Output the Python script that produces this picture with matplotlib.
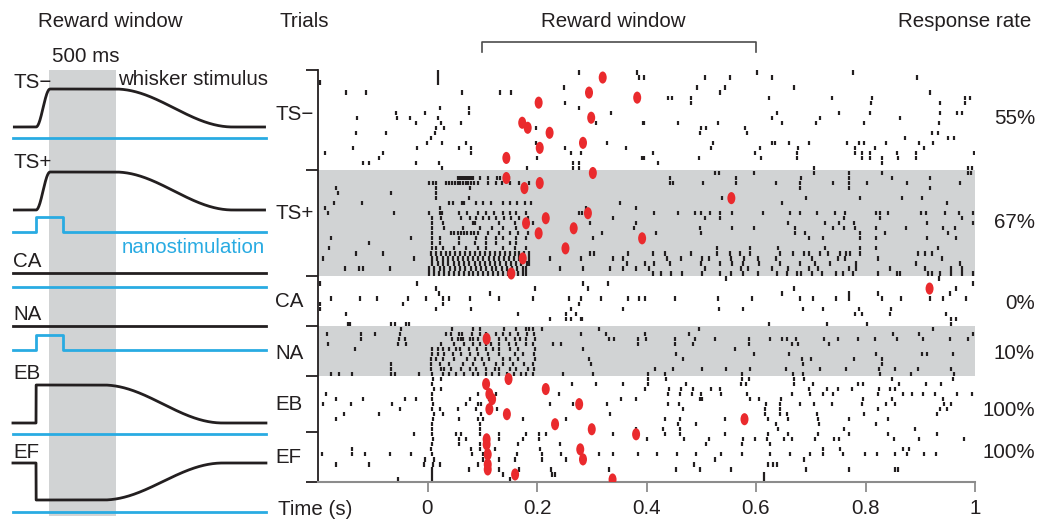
import numpy as np
import matplotlib
matplotlib.use("Agg")
import matplotlib.pyplot as plt
from matplotlib.path import Path
from matplotlib.transforms import Affine2D, blended_transform_factory

plt.rcParams['font.family'] = ['Liberation Sans', 'DejaVu Sans']

# ---------------- data ----------------
groups = ['TS\u2212', 'TS+', 'CA', 'NA', 'EB', 'EF']
group_sizes = [20, 21, 10, 10, 11, 10]
response_rates = ['55%', '67%', '0%', '10%', '100%', '100%']
shaded_groups = ['TS+', 'NA']
xticks = [0, 0.2, 0.4, 0.6, 0.8, 1.0]
xticklabels = ['0', '0.2', '0.4', '0.6', '0.8', '1']
reward_window = (0.1, 0.6)

# spike times (ms) per trial, top trial first
ts_minus_spikes = [
    [19, 277, 383, 601, 778],
    [19, 387, 395, 507, 552, 630, 894],
    [-196, 19],
    [249, 493, 543, 670],
    [-149, -112, 63, 132, 152, 534, 918],
    [440, 447, 481, 624, 738, 812, 982, 990],
    [252, 481, 810, 936, 982],
    [22, 75, 277],
    [-57, -5, 75, 336, 639, 752, 808, 936, 968, 976],
    [-129, -55, -32, 19, 630, 716, 863],
    [-21, 25, 62, 307, 394, 396, 457, 530, 647, 710, 798, 934],
    [16, 31, 198, 499, 509, 580],
    [-130, -75, 13, 498, 584, 921, 932],
    [7, 873, 951, 962],
    [-1, 26, 71, 199, 327, 522, 630, 635, 661, 697, 767, 789, 798, 837, 898, 924],
    [-136, -19, 58, 79, 205, 251, 362, 517, 607, 676, 780, 817, 907],
    [-188, -82, 80, 263, 281, 412, 598, 674, 780, 793, 808, 857, 892, 998],
    [-89, 200, 392, 395, 496, 610, 674, 794, 808, 831, 859, 892],
    [-118, -107, -21, 21, 266, 277, 421, 830],
    [27, 181, 266, 277, 706, 988, 994],
]
ts_minus_lick_trials = [1, 4, 5, 6, 9, 10, 11, 12, 14, 15, 17]
ts_minus_lick_ms = [320, 295, 383, 203, 299, 173, 183, 223, 284, 205, 144]

ts_plus_spikes = [
    [525, 532, 597, 706, 769, 830, 988, 993],
    [55, 59, 62, 65, 68, 71, 74, 77, 80, 83, 96, 110, 127, 133, 149, 443, 563, 683, 770, 848, 918],
    [3, 10, 16, 34, 40, 44, 50, 55, 60, 65, 70, 74, 79, 85, 92, 110, 125, 136, 151, 167, 185,
     443, 448, 504, 563, 637, 681, 741, 769, 802, 876, 973],
    [-168, 16, 77, 681, 769, 918],
    [-164, -66, 16],
    [16, 76, 537, 692, 790, 866, 904],
    [-170, -119, 40, 46, 63, 67, 89, 102, 116, 137, 150, 164, 178, 189, 352, 647, 949],
    [-188, 22, 290, 381],
    [-181, -62, 2, 23, 26, 58, 73, 92, 106, 122, 137, 150, 162, 180, 277, 282, 414, 458, 489, 500,
     516, 534, 557, 613, 662, 680, 712, 745, 763, 819, 827, 842, 901, 911, 945, 971, 997],
    [8, 25, 61, 77, 89, 101, 113, 125, 140, 152, 168, 183, 339, 507, 534, 760, 827, 977],
    [9, 28, 83, 86, 131, 159, 192, 297, 380, 658, 726, 752, 779, 912, 997],
    [9, 31, 64, 95, 118, 137, 162, 377, 498, 557, 597, 671, 741, 761, 781, 820, 874, 942, 963],
    [9, 43, 49, 55, 61, 67, 73, 79, 85, 92, 110, 131, 150, 165, 183, 318, 418, 499, 671, 690, 790,
     836, 950],
    [-176, -30, 9, 22, 58, 89, 107, 125, 137, 162, 180, 302, 697, 723, 790, 819, 912, 965],
    [-106, 9, 22, 58, 86, 107, 125, 150, 162],
    [-179, 9, 16, 28, 49, 70, 92, 107, 137, 159, 180, 528, 589, 640, 726, 790, 819, 933],
    [-130, -82, 6, 15, 24, 33, 42, 51, 60, 69, 78, 87, 96, 105, 114, 123, 132, 141, 150, 159, 168,
     177, 186, 296, 305, 366, 412, 434, 482, 528, 552, 571, 589, 644, 668, 688, 696, 717, 732, 753,
     765, 772, 790, 896, 909, 921],
    [-190, -24, 9, 18, 28, 37, 46, 56, 65, 74, 84, 93, 102, 112, 121, 130, 140, 149, 158, 168, 177,
     186, 223, 280, 338, 357, 437, 463, 501, 515, 555, 578, 604, 637, 703, 750, 763, 823, 939],
    [9, 19, 29, 38, 48, 57, 67, 76, 86, 95, 105, 114, 124, 133, 143, 152, 162, 171, 181, 186, 364,
     397, 414, 443, 499, 534, 557, 577, 606, 644, 681, 708, 735, 782, 893, 973],
    [-150, -126, -118, -68, 3, 12, 22, 31, 41, 50, 60, 69, 79, 88, 98, 107, 117, 126, 136, 145, 155,
     164, 174, 180, 242, 284, 333, 357, 381, 405, 506, 573, 586, 629, 659, 696, 714, 769, 783, 844,
     909, 957, 976],
    [3, 12, 21, 30, 39, 48, 57, 66, 75, 84, 93, 102, 111, 120, 129, 138, 147, 156, 165, 174, 180,
     412, 426, 444, 464, 501, 534, 554, 577, 604, 638, 656, 674, 683, 702, 720, 747, 759, 778, 823,
     857, 863, 915, 921, 936, 957, 976, 997],
]
ts_plus_lick_trials = [0, 1, 2, 3, 5, 8, 9, 10, 11, 12, 13, 15, 17, 20]
ts_plus_lick_ms = [302, 144, 205, 177, 555, 293, 216, 180, 267, 203, 392, 252, 174, 153]

ca_spikes = [
    [546, 934],
    [-196, -19, 284, 329, 997],
    [16, 197, 293, 670, 965],
    [21, 114, 647, 769, 822, 954],
    [-176, -123, -93, -36, -3, 28, 40, 78, 131, 193, 259, 280, 317, 366, 387, 397, 452, 531, 592,
     680, 705, 746, 770, 831, 864, 917, 941, 983],
    [-196, -45, 28, 277],
    [-196, 15, 80, 262, 357, 532, 577, 685, 723, 788, 846],
    [-148, 165, 253, 271, 780, 793, 845, 947],
    [224, 253, 262, 280, 283, 957, 966],
    [-146, -142, -67, -59, -39, -33, 624, 729, 802, 957],
]
ca_lick_trials = [2]
ca_lick_ms = [917]

na_spikes = [
    [-48, 45, 84, 96, 140, 162, 180, 186, 192, 209, 313, 496, 924],
    [-184, -121, -95, -51, 34, 43, 57, 63, 81, 96, 106, 125, 137, 150, 165, 181, 194, 280, 326, 397,
     478, 851, 898, 997],
    [-121, -52, -42, 45, 55, 61, 64, 77, 84, 93, 107, 113, 131, 144, 159, 169, 180, 196, 332, 341,
     384, 399, 452, 488, 526, 588, 625, 647, 656, 673, 725, 750, 787, 817, 857, 905, 955, 988],
    [-182, -54, -40, 25, 49, 67, 84, 95, 106, 116, 130, 148, 162, 179, 193, 229, 243, 384, 452, 485,
     588, 666, 677, 734],
    [-132, 8, 19, 28, 40, 52, 59, 75, 90, 107, 119, 131, 150, 165, 196, 284, 562],
    [8, 19, 31, 47, 61, 77, 92, 110, 131, 159, 174, 194, 454, 597, 661, 819, 904, 913, 959],
    [6, 16, 28, 49, 73, 87, 100, 113, 137, 150, 165, 196, 295, 467, 684, 700, 779, 831],
    [-67, 6, 22, 40, 64, 83, 103, 125, 137, 156, 177, 193, 299, 685, 831],
    [-67, 6, 25, 31, 43, 61, 77, 89, 107, 124, 131, 150, 162, 183, 194, 415, 448, 502, 545, 589, 654,
     716, 764, 825, 853, 896, 956],
    [-177, -161, -138, -67, -59, -15, 8, 28, 40, 52, 66, 83, 92, 106, 118, 131, 145, 158, 171, 180,
     192, 247, 302, 403, 434, 574, 668, 686, 826, 884, 962],
]
na_lick_trials = [2]
na_lick_ms = [108]

eb_spikes = [
    [10, 25, 403, 435, 574, 587, 670, 688, 848, 960],
    [9, 264, 307, 357, 403, 472, 572, 582, 669, 704, 787, 795, 862, 910, 938],
    [11, 25, 397, 442, 463, 485, 518, 535, 696, 729, 749, 776, 825, 845, 854],
    [-186, 9, 93, 110, 125, 241, 440, 462, 484, 499, 536, 583, 665, 699, 723, 740, 823, 869, 885, 905,
     927, 967, 994],
    [-168, -117, -42, -21, 8, 77, 113, 354, 381, 498, 501, 589, 606, 645, 795, 849, 941],
    [-191, -140, -65, 10, 70, 92, 98, 224, 266, 327, 439, 460, 618, 643, 680, 706, 739, 793, 838, 853,
     944, 957],
    [-50, 9, 23, 55, 89, 127, 467, 616, 644, 822, 936, 948],
    [-152, -88, 11, 28, 98, 334, 616, 643, 656, 711, 797, 930],
    [-168, 10, 58, 92, 101, 174, 253, 434, 462, 543, 622, 659, 713, 770, 842],
    [8, 95, 230, 458, 490, 637, 715, 820],
    [9, 95, 381, 430, 462, 640, 760, 890],
]
eb_lick_trials = [0, 1, 2, 3, 4, 5, 6, 7, 8, 9, 10]
eb_lick_ms = [148, 107, 216, 113, 118, 277, 113, 145, 579, 233, 300]

ef_spikes = [
    [-24, 8, 52, 61, 95, 131, 180, 204, 217, 338, 433, 462, 543, 622, 659, 713, 770, 842, 931],
    [10, 57, 71, 107, 131, 174, 204, 400, 468, 514, 577, 598, 621, 652, 665, 708, 742, 752, 852, 898,
     980],
    [9, 58, 95, 165, 242, 509, 574, 626],
    [-138, 7, 80, 96, 124, 206, 277, 722, 754, 868, 879],
    [-193, -138, -115, -68, -30, 9, 82, 102, 113, 163, 209, 244, 314, 338, 385, 420, 455, 490, 536,
     574, 626, 663, 698, 723, 759, 799, 821, 853, 876, 906, 929],
    [-4, 11, 101, 131, 159, 210, 253, 525, 687],
    [-168, -106, -6, 10, 22, 92, 113, 487, 622, 631, 638],
    [9, 75, 131, 168, 225, 332, 454, 497, 555, 692, 769, 854, 860],
    [8, 137, 228, 232, 614],
    [-54, 9, 150, 615],
]
ef_lick_trials = [0, 1, 2, 3, 4, 5, 6, 7, 8, 9]
ef_lick_ms = [381, 108, 108, 279, 110, 284, 110, 110, 160, 338]

group_spikes = [ts_minus_spikes, ts_plus_spikes, ca_spikes, na_spikes, eb_spikes, ef_spikes]
group_lick_trials = [ts_minus_lick_trials, ts_plus_lick_trials, ca_lick_trials,
                     na_lick_trials, eb_lick_trials, ef_lick_trials]
group_lick_ms = [ts_minus_lick_ms, ts_plus_lick_ms, ca_lick_ms, na_lick_ms, eb_lick_ms, ef_lick_ms]

# schematic (left panel): stimulus type per condition
stim_kind = ['ramp', 'ramp', 'flat', 'flat', 'step_up', 'step_down']
nano_pulse = [False, True, False, True, False, False]
nano_pulse_dur = 0.2

# ---------------- style / layout ----------------
W, H = 1039, 521
FS = 14.8
INK = '#231f20'
BLUE = '#29abe2'
GRAY = '#d1d3d4'
RED = '#ea2a2d'
AXGRAY = '#8c8c8c'

fig = plt.figure(figsize=(W / 100, H / 100), dpi=100)


def ftext(x, y, s, **kw):
    kw.setdefault('color', INK)
    kw.setdefault('fontsize', FS)
    kw.setdefault('va', 'baseline')
    fig.text(x / W, 1 - y / H, s, **kw)


# ---------------- left schematic ----------------
ax0 = fig.add_axes([0, 0, 300 / W, 1])
ax0.set_xlim(-36 / 134, 264 / 134)
ax0.set_ylim(H, 0)
ax0.axis('off')
ax0.fill_between(list(reward_window), 70, 516, color=GRAY, lw=0, zorder=0)

whisker_base = [127, 210, 273, 326, 423, 463]
whisker_peak = [89, 172, 273, 326, 385, 500]
nano_base = [138, 232, 287, 350, 434, 512]
nano_amp = 15
t0s, t1s = -0.172, 1.716
ts = np.linspace(t0s, t1s, 1200)


def ease(t, a, b):
    u = np.clip((t - a) / (b - a), 0, 1)
    return 0.5 - 0.5 * np.cos(np.pi * u)


for i, kind in enumerate(stim_kind):
    b, p = whisker_base[i], whisker_peak[i]
    if kind == 'ramp':
        lvl = ease(ts, 0.0, 0.105) - ease(ts, 0.59, 1.47)
        ax0.plot(ts, b + (p - b) * lvl, color=INK, lw=2.0, solid_capstyle='butt')
    elif kind == 'flat':
        ax0.plot([t0s, t1s], [b, b], color=INK, lw=2.0)
    else:
        lvl = ease(ts, 0.5, 1.395)
        tt = np.concatenate([[t0s, 0.0], ts[ts > 0]])
        yy = np.concatenate([[b, b], p + (b - p) * lvl[ts > 0]])
        ax0.plot(tt, yy, color=INK, lw=2.0)
    nb = nano_base[i]
    if nano_pulse[i]:
        ax0.plot([t0s, 0, 0, nano_pulse_dur, nano_pulse_dur, t1s],
                 [nb, nb, nb - nano_amp, nb - nano_amp, nb, nb], color=BLUE, lw=2.0)
    else:
        ax0.plot([t0s, t1s], [nb, nb], color=BLUE, lw=2.0)

ftext(38, 27, 'Reward window')
ftext(52, 62, '500 ms')
ftext(118, 85, 'whisker stimulus')
ftext(122, 253, 'nanostimulation', color=BLUE)
for lab, yb in zip(groups, [88, 168, 267, 320, 379, 457.5]):
    ftext(13, yb, lab)

# ---------------- raster ----------------
ax = fig.add_axes([318 / W, (H - 482) / H, 657 / W, 412 / H])
n_trials = sum(group_sizes)
ax.set_xlim(-0.2, 1.0)
ax.set_ylim(n_trials, 0)

starts = np.concatenate([[0], np.cumsum(group_sizes)])
for g, name in enumerate(groups):
    if name in shaded_groups:
        ax.axhspan(starts[g], starts[g + 1], color=GRAY, lw=0, zorder=0)

positions, offsets = [], []
lick_x, lick_y = [], []
for g in range(len(groups)):
    for k, tr in enumerate(group_spikes[g]):
        positions.append(np.array(tr) / 1000.0)
        offsets.append(starts[g] + k + 0.5)
    for k, ms in zip(group_lick_trials[g], group_lick_ms[g]):
        lick_x.append(ms / 1000.0)
        lick_y.append(starts[g] + k + 0.5)

ax.eventplot(positions, lineoffsets=offsets, linelengths=0.84, linewidths=1.6,
             colors=INK, zorder=2)

ell = Path.unit_circle().transformed(Affine2D().scale(0.66, 1.0))
ax.scatter(lick_x, lick_y, marker=ell, s=76, color=RED, edgecolors='none', zorder=3)

for s in ['top', 'right']:
    ax.spines[s].set_visible(False)
ax.spines['left'].set_color(INK)
ax.spines['left'].set_linewidth(1.3)
ax.spines['bottom'].set_color(AXGRAY)
ax.spines['bottom'].set_linewidth(1.5)
ax.set_yticks(starts)
ax.tick_params(axis='y', length=8.5, width=1.3, color=INK, labelleft=False)
ax.set_xticks(xticks)
ax.set_xticklabels(xticklabels)
ax.tick_params(axis='x', length=7.5, width=1.3, color=AXGRAY, labelcolor=INK,
               labelsize=FS, pad=5)
ax.patch.set_alpha(0)

# group labels and response rates
for lab, yb in zip(groups, [120, 219, 307, 359, 410.5, 463]):
    ftext(275, yb, lab)
for rr, yb in zip(response_rates, [124, 228, 309, 359, 415.5, 458]):
    ftext(1035, yb, rr, ha='right')

ftext(278, 515, 'Time (s)')
ftext(280, 27, 'Trials')
ftext(613, 27, 'Reward window', ha='center')
ftext(1031, 27, 'Response rate', ha='right')

# reward window bracket
trb = blended_transform_factory(ax.transData, fig.transFigure)
ax.plot([reward_window[0], reward_window[0], reward_window[1], reward_window[1]],
        [1 - 52 / H, 1 - 42 / H, 1 - 42 / H, 1 - 52 / H], transform=trb,
        color='#4d4d4d', lw=1.2, clip_on=False)

fig.savefig('out.png', dpi=100)
